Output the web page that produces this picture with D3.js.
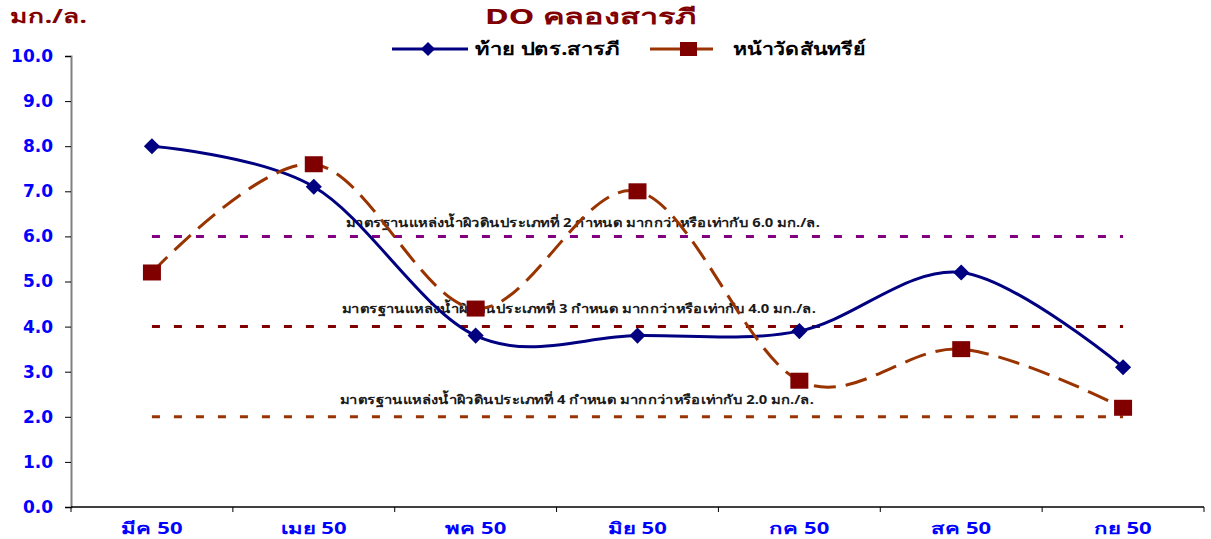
<!DOCTYPE html>
<html>
<head>
<meta charset="utf-8">
<script src="https://cdn.jsdelivr.net/npm/d3@7"></script>
<style>
  html, body { margin: 0; padding: 0; background: #fff; }
  svg { display: block; font-family: Tahoma, "Noto Sans", "DejaVu Sans", sans-serif; }
</style>
</head>
<body>
<svg id="chart" width="1211" height="539"></svg>
<script>
// Monthly dissolved oxygen (mg/L) at two stations on คลองสารภี
const months = ["มีค 50", "เมย 50", "พค 50", "มิย 50", "กค 50", "สค 50", "กย 50"];
const stationA = [8.0, 7.1, 3.8, 3.8, 3.9, 5.2, 3.1];   // ท้าย ปตร.สารภี
const stationB = [5.2, 7.6, 4.4, 7.0, 2.8, 3.5, 2.2];   // หน้าวัดสันทรีย์
const seriesNames = ["ท้าย ปตร.สารภี", "หน้าวัดสันทรีย์"];
const yTicks = [0, 1, 2, 3, 4, 5, 6, 7, 8, 9, 10];

// Surface water quality standard thresholds
const standardValues = [6.0, 4.0, 2.0];
const standardLabels = [
  "มาตรฐานแหล่งน้ำผิวดินประเภทที่ 2 กำหนด มากกว่าหรือเท่ากับ 6.0 มก./ล.",
  "มาตรฐานแหล่งน้ำผิวดินประเภทที่ 3 กำหนด มากกว่าหรือเท่ากับ 4.0 มก./ล.",
  "มาตรฐานแหล่งน้ำผิวดินประเภทที่ 4 กำหนด มากกว่าหรือเท่ากับ 2.0 มก./ล."
];
const standardColors = ["#800080", "#800000", "#993300"];

const svg = d3.select("#chart");
const plot = { left: 71, right: 1204, top: 56, bottom: 507 };

const x = d3.scaleBand().domain(months).range([plot.left, plot.right]);
const cx = m => x(m) + x.bandwidth() / 2;
const y = d3.scaleLinear().domain([0, 10]).range([plot.bottom, plot.top]);

// Stretch a text element horizontally to a given width
function fitWidth(sel, w) {
  sel.attr("textLength", w).attr("lengthAdjust", "spacingAndGlyphs");
}

// Y axis
const yAxis = svg.append("g")
  .attr("transform", `translate(${plot.left},0)`)
  .call(d3.axisLeft(y).tickValues(yTicks).tickFormat(d3.format(".1f")).tickSize(6).tickPadding(12));
yAxis.select(".domain").attr("stroke", "#808080").attr("stroke-width", 2);
yAxis.selectAll(".tick line").attr("stroke", "#000");
yAxis.selectAll(".tick text")
  .attr("fill", "#0000ff").attr("font-size", 17).attr("font-weight", "bold")
  .attr("font-family", "Verdana, 'DejaVu Sans', sans-serif");

// X axis with ticks between categories
const xAxis = svg.append("g")
  .attr("transform", `translate(0,${plot.bottom})`);
xAxis.append("line")
  .attr("x1", plot.left).attr("x2", plot.right)
  .attr("stroke", "#000").attr("stroke-width", 1.5);
const boundaries = months.map(m => x(m)).concat([x(months[months.length - 1]) + x.bandwidth()]);
xAxis.selectAll("line.tk").data(boundaries).join("line").attr("class", "tk")
  .attr("x1", d => d).attr("x2", d => d).attr("y1", 0).attr("y2", 5)
  .attr("stroke", "#000");
xAxis.selectAll("text").data(months).join("text")
  .attr("x", d => cx(d)).attr("y", 27)
  .attr("text-anchor", "middle")
  .attr("fill", "#0000ff").attr("font-size", 16).attr("font-weight", "bold")
  .text(d => d)
  .each(function () {
    const w = this.getComputedTextLength();
    fitWidth(d3.select(this), w * 1.38);
  });

// Standard threshold lines and their labels
const firstX = cx(months[0]);
const lastX = cx(months[months.length - 1]);
standardValues.forEach((v, i) => {
  svg.append("line")
    .attr("x1", firstX).attr("x2", lastX)
    .attr("y1", y(v)).attr("y2", y(v))
    .attr("stroke", standardColors[i]).attr("stroke-width", 3)
    .attr("stroke-dasharray", "8 14");
});
const labelPos = [[583, 224], [579, 310], [577, 401]];
standardLabels.forEach((t, i) => {
  svg.append("text")
    .attr("x", labelPos[i][0]).attr("y", labelPos[i][1])
    .attr("text-anchor", "middle").attr("dominant-baseline", "middle")
    .attr("font-size", 12.5).attr("font-weight", "bold").attr("fill", "#1a1a1a")
    .text(t)
    .call(fitWidth, 474);
});

// Smoothed series lines
const line = d3.line().x(d => cx(d.m)).y(d => y(d.v)).curve(d3.curveCatmullRom.alpha(0));
const dataA = months.map((m, i) => ({ m, v: stationA[i] }));
const dataB = months.map((m, i) => ({ m, v: stationB[i] }));

svg.append("path").datum(dataA).attr("d", line)
  .attr("fill", "none").attr("stroke", "#000080").attr("stroke-width", 3);
svg.selectAll("path.dA").data(dataA).join("path").attr("class", "dA")
  .attr("d", d3.symbol(d3.symbolSquare, 130))
  .attr("transform", d => `translate(${cx(d.m)},${y(d.v)}) rotate(45)`)
  .attr("fill", "#000080");

svg.append("path").datum(dataB).attr("d", line)
  .attr("fill", "none").attr("stroke", "#993300").attr("stroke-width", 3)
  .attr("stroke-dasharray", "22 10");
svg.selectAll("rect.dB").data(dataB).join("rect").attr("class", "dB")
  .attr("x", d => cx(d.m) - 9).attr("y", d => y(d.v) - 8)
  .attr("width", 18).attr("height", 16)
  .attr("fill", "#800000");

// Title and unit
svg.append("text").attr("x", 591).attr("y", 24).attr("text-anchor", "middle")
  .attr("fill", "#800000").attr("font-size", 21).attr("font-weight", "bold")
  .text("DO คลองสารภี")
  .call(fitWidth, 212);
svg.append("text").attr("x", 10).attr("y", 23)
  .attr("fill", "#800000").attr("font-size", 19).attr("font-weight", "bold")
  .text("มก./ล.")
  .call(fitWidth, 77);

// Legend
const lg = svg.append("g");
lg.append("line").attr("x1", 392).attr("x2", 468).attr("y1", 49).attr("y2", 49)
  .attr("stroke", "#000080").attr("stroke-width", 3);
lg.append("path").attr("d", d3.symbol(d3.symbolSquare, 100))
  .attr("transform", "translate(428,49) rotate(45)").attr("fill", "#000080");
lg.append("text").attr("x", 475).attr("y", 50).attr("dominant-baseline", "middle")
  .attr("font-size", 18).attr("font-weight", "bold").attr("fill", "#000")
  .text(seriesNames[0])
  .call(fitWidth, 145);
lg.append("line").attr("x1", 650).attr("x2", 713).attr("y1", 49).attr("y2", 49)
  .attr("stroke", "#993300").attr("stroke-width", 3);
lg.append("rect").attr("x", 680).attr("y", 42).attr("width", 17).attr("height", 14)
  .attr("fill", "#800000");
lg.append("text").attr("x", 733).attr("y", 50).attr("dominant-baseline", "middle")
  .attr("font-size", 18).attr("font-weight", "bold").attr("fill", "#000")
  .text(seriesNames[1])
  .call(fitWidth, 133);
</script>
</body>
</html>
